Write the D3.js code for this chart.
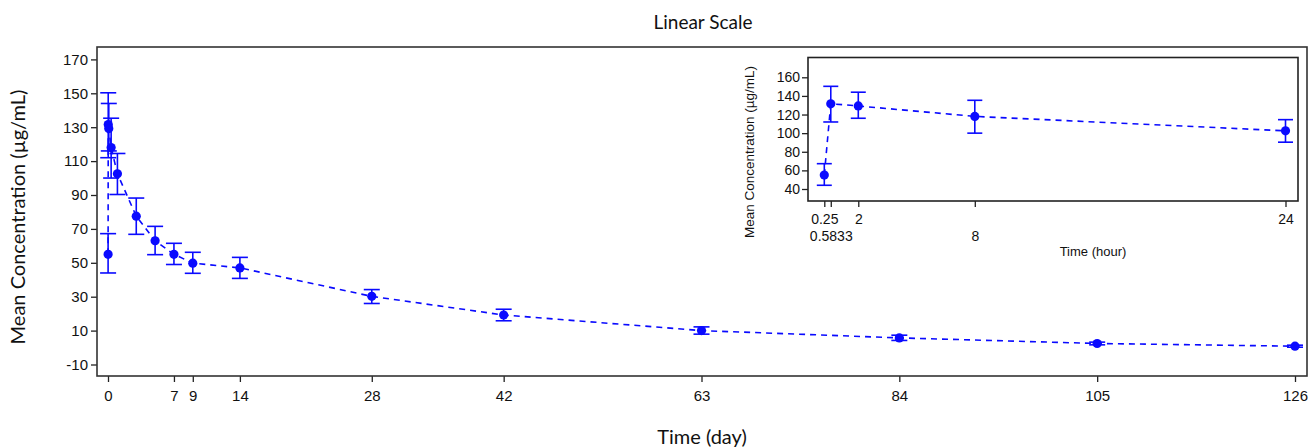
<!DOCTYPE html>
<html><head><meta charset="utf-8">
<script src="https://cdn.jsdelivr.net/npm/d3@7"></script>
<style>body{margin:0;background:#fff}svg{display:block}</style>
</head><body>
<script>
// ---- data ----
const hours = [0.25, 0.5833, 2, 8, 24];
const hourMean = [55, 131.6, 129.2, 118, 102.5];
const hourLow = [44, 112, 116, 100, 90.3];
const hourHigh = [67.2, 150.3, 144, 135.3, 114.5];

const days = [3, 5, 7, 9, 14, 28, 42, 63, 84, 105, 126];
const dayMean = [77.5, 63, 55, 49.8, 47, 30.2, 19.2, 10, 5.7, 2.4, 0.8];
const dayLow = [66.8, 54.8, 49, 43.8, 40.8, 26, 15.8, 7.9, 4.2, 1.6, 0.2];
const dayHigh = [88.2, 71.5, 61.5, 56.2, 53.2, 34.2, 22.6, 12.2, 7.3, 3.2, 1.4];

const mainXTicks = [0, 7, 9, 14, 28, 42, 63, 84, 105, 126];
const mainYTicks = [170, 150, 130, 110, 90, 70, 50, 30, 10, -10];
const insetXTicks = [0.25, 0.5833, 2, 8, 24];
const insetYTicks = [40, 60, 80, 100, 120, 140, 160];

// combined main series (hours converted to days)
const mainPts = hours.map((h, i) => ({t: h / 24, m: hourMean[i], lo: hourLow[i], hi: hourHigh[i]}))
  .concat(days.map((d, i) => ({t: d, m: dayMean[i], lo: dayLow[i], hi: dayHigh[i]})));
const insetPts = hours.map((h, i) => ({t: h, m: hourMean[i], lo: hourLow[i], hi: hourHigh[i]}));

const W = 1309, H = 448;
const blue = "#0a0aff";
const svg = d3.select("body").append("svg").attr("width", W).attr("height", H);

const tickFont = "'Liberation Sans', Arial, sans-serif";
const titleFont = "Lato, 'Open Sans', sans-serif";

// ---- main plot ----
const frame = {l: 97, r: 1307, t: 47, b: 376};
const x = d3.scaleLinear().domain([0, 126]).range([108, 1295]);
const y = d3.scaleLinear().domain([170, -10]).range([59.4, 364.5]);

svg.append("text").attr("x", 703).attr("y", 29).attr("text-anchor", "middle")
  .attr("font-family", titleFont).attr("font-size", 19).attr("fill", "#111").text("Linear Scale");

const xAxis = svg.append("g").attr("transform", `translate(0,${frame.b})`)
  .call(d3.axisBottom(x).tickValues(mainXTicks).tickSize(6).tickPadding(8).tickFormat(d => String(d)));
const yAxis = svg.append("g").attr("transform", `translate(${frame.l},0)`)
  .call(d3.axisLeft(y).tickValues(mainYTicks).tickSize(6).tickPadding(3).tickFormat(d => String(d)));
[xAxis, yAxis].forEach(g => {
  g.attr("font-family", tickFont);
  g.select(".domain").remove();
  g.selectAll(".tick line").attr("stroke", "#222").attr("stroke-width", 1.3);
  g.selectAll(".tick text").attr("font-family", tickFont).attr("font-size", 15).attr("fill", "#111");
});

svg.append("rect").attr("x", frame.l).attr("y", frame.t).attr("width", frame.r - frame.l)
  .attr("height", frame.b - frame.t).attr("fill", "none").attr("stroke", "#333").attr("stroke-width", 1.6);

svg.append("text").attr("x", 702).attr("y", 444).attr("text-anchor", "middle")
  .attr("font-family", titleFont).attr("font-size", 20).attr("fill", "#111").text("Time (day)");
svg.append("text").attr("transform", "translate(25,217) rotate(-90)").attr("text-anchor", "middle")
  .attr("font-family", titleFont).attr("font-size", 20).attr("fill", "#111").text("Mean Concentration (µg/mL)");

function drawSeries(g, pts, sx, sy, cap, r) {
  g.append("path").datum(pts)
    .attr("d", d3.line().x(d => sx(d.t)).y(d => sy(d.m)))
    .attr("fill", "none").attr("stroke", blue).attr("stroke-width", 1.6).attr("stroke-dasharray", "6,5");
  const eb = g.selectAll("g.eb").data(pts).join("g").attr("class", "eb")
    .attr("stroke", blue).attr("stroke-width", 1.6);
  eb.append("line").attr("x1", d => sx(d.t)).attr("x2", d => sx(d.t)).attr("y1", d => sy(d.lo)).attr("y2", d => sy(d.hi));
  eb.append("line").attr("x1", d => sx(d.t) - cap).attr("x2", d => sx(d.t) + cap).attr("y1", d => sy(d.lo)).attr("y2", d => sy(d.lo));
  eb.append("line").attr("x1", d => sx(d.t) - cap).attr("x2", d => sx(d.t) + cap).attr("y1", d => sy(d.hi)).attr("y2", d => sy(d.hi));
  g.selectAll("circle").data(pts).join("circle")
    .attr("cx", d => sx(d.t)).attr("cy", d => sy(d.m)).attr("r", r).attr("fill", blue);
}
drawSeries(svg.append("g"), mainPts, x, y, 8, 4.6);

// ---- inset ----
const iframe = {l: 808, r: 1298, t: 57.5, b: 201};
svg.append("rect").attr("x", iframe.l).attr("y", iframe.t).attr("width", iframe.r - iframe.l)
  .attr("height", iframe.b - iframe.t).attr("fill", "#fff").attr("stroke", "none");
const ix = d3.scaleLinear().domain([0.25, 24]).range([824.3, 1285.5]);
const iy = d3.scaleLinear().domain([40, 160]).range([189, 77.3]);

const ixAxis = svg.append("g").attr("transform", `translate(0,${iframe.b})`)
  .call(d3.axisBottom(ix).tickValues(insetXTicks).tickSize(6).tickPadding(7).tickFormat(d => String(d)));
ixAxis.selectAll(".tick text").attr("dy", (d, i) => i % 2 === 1 ? "1.95em" : "0.71em");
const iyAxis = svg.append("g").attr("transform", `translate(${iframe.l},0)`)
  .call(d3.axisLeft(iy).tickValues(insetYTicks).tickSize(6).tickPadding(2).tickFormat(d => String(d)));
[ixAxis, iyAxis].forEach(g => {
  g.attr("font-family", tickFont);
  g.select(".domain").remove();
  g.selectAll(".tick line").attr("stroke", "#222").attr("stroke-width", 1.3);
  g.selectAll(".tick text").attr("font-family", tickFont).attr("font-size", 14).attr("fill", "#111");
});
svg.append("rect").attr("x", iframe.l).attr("y", iframe.t).attr("width", iframe.r - iframe.l)
  .attr("height", iframe.b - iframe.t).attr("fill", "none").attr("stroke", "#222").attr("stroke-width", 1.6);

svg.append("text").attr("x", 1093).attr("y", 256).attr("text-anchor", "middle")
  .attr("font-family", tickFont).attr("font-size", 13).attr("fill", "#111").text("Time (hour)");
svg.append("text").attr("transform", "translate(754,152) rotate(-90)").attr("text-anchor", "middle")
  .attr("font-family", tickFont).attr("font-size", 13.5).attr("fill", "#111").text("Mean Concentration (µg/mL)");

drawSeries(svg.append("g"), insetPts, ix, iy, 7.5, 4.6);
</script>
</body></html>
